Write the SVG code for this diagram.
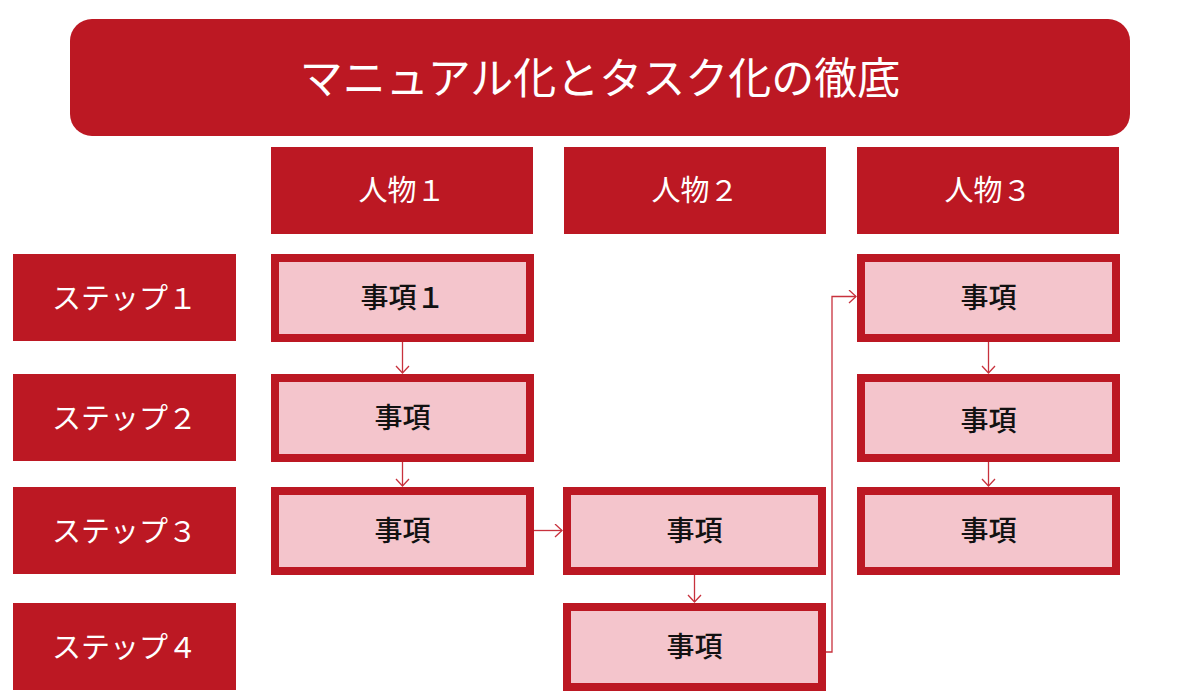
<svg xmlns="http://www.w3.org/2000/svg" width="1200" height="700" viewBox="0 0 1200 700">
<style>
.red{fill:#BC1823}
.item{fill:#F4C5CC;stroke:#BC1823;stroke-width:8}
.wt{fill:#FFFFFF;font-family:"Noto Sans CJK JP","Noto Sans",sans-serif;font-size:29px;text-anchor:middle}
.bt{fill:#111111;font-family:"Noto Sans CJK JP","Noto Sans",sans-serif;font-size:28px;font-weight:500;text-anchor:middle}
.title{fill:#FFFFFF;font-family:"Noto Sans CJK JP","Noto Sans",sans-serif;font-size:43px;text-anchor:middle}
.conn{fill:none;stroke:#C8323D;stroke-width:1.3}
</style>
<defs>
<marker id="arr" markerUnits="userSpaceOnUse" markerWidth="10" markerHeight="16" refX="8" refY="7" orient="auto">
<path d="M1,0.5 L8,7 L1,13.5" fill="none" stroke="#C8323D" stroke-width="1.3"/>
</marker>
</defs>
<rect width="1200" height="700" fill="#FFFFFF"/>
<g id="title">
<rect class="red" x="70" y="19" width="1060" height="117" rx="22"/>
<text class="title" x="600" y="94">マニュアル化とタスク化の徹底</text>
</g>
<g id="person1"><rect class="red" x="271" y="147" width="262" height="87"/><text class="wt" x="402" y="201">人物１</text></g>
<g id="person2"><rect class="red" x="564" y="147" width="262" height="87"/><text class="wt" x="695" y="201">人物２</text></g>
<g id="person3"><rect class="red" x="857" y="147" width="262" height="87"/><text class="wt" x="988" y="201">人物３</text></g>
<g id="step1"><rect class="red" x="13" y="254" width="223" height="87"/><text class="wt" x="124.5" y="309">ステップ１</text></g>
<g id="step2"><rect class="red" x="13" y="374" width="223" height="87"/><text class="wt" x="124.5" y="429">ステップ２</text></g>
<g id="step3"><rect class="red" x="13" y="487" width="223" height="87"/><text class="wt" x="124.5" y="542">ステップ３</text></g>
<g id="step4"><rect class="red" x="13" y="603" width="223" height="87"/><text class="wt" x="124.5" y="658">ステップ４</text></g>
<g id="item-p1-s1"><rect class="item" x="275" y="258" width="255" height="80"/><text class="bt" x="402.5" y="308">事項１</text></g>
<g id="item-p1-s2"><rect class="item" x="275" y="378" width="255" height="80"/><text class="bt" x="402.5" y="428">事項</text></g>
<g id="item-p1-s3"><rect class="item" x="275" y="491" width="255" height="80"/><text class="bt" x="402.5" y="541">事項</text></g>
<g id="item-p2-s3"><rect class="item" x="567" y="491" width="255" height="80"/><text class="bt" x="694.5" y="541">事項</text></g>
<g id="item-p2-s4"><rect class="item" x="567" y="607" width="255" height="80"/><text class="bt" x="694.5" y="657">事項</text></g>
<g id="item-p3-s1"><rect class="item" x="861" y="258" width="255" height="80"/><text class="bt" x="988.5" y="308">事項</text></g>
<g id="item-p3-s2"><rect class="item" x="861" y="378" width="255" height="80"/><text class="bt" x="988.5" y="431">事項</text></g>
<g id="item-p3-s3"><rect class="item" x="861" y="491" width="255" height="80"/><text class="bt" x="988.5" y="541">事項</text></g>
<g id="connectors">
<path class="conn" d="M402.5,342 V373" marker-end="url(#arr)"/>
<path class="conn" d="M402.5,462 V486" marker-end="url(#arr)"/>
<path class="conn" d="M534,530.5 H562" marker-end="url(#arr)"/>
<path class="conn" d="M694.5,575 V602" marker-end="url(#arr)"/>
<path class="conn" d="M826,652 H832 V296.5 H856" marker-end="url(#arr)"/>
<path class="conn" d="M988.5,342 V373" marker-end="url(#arr)"/>
<path class="conn" d="M988.5,462 V486" marker-end="url(#arr)"/>
</g>
</svg>
